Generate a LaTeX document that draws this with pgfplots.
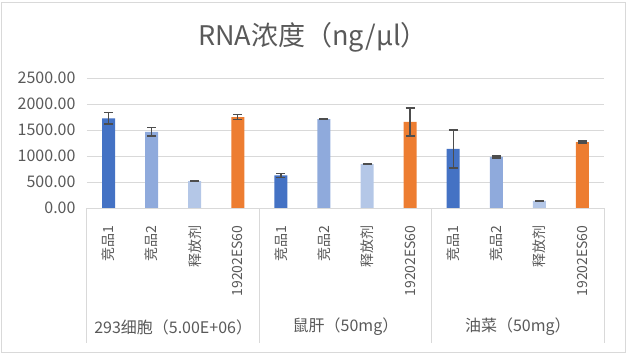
\documentclass[border=0pt]{standalone}
\usepackage{pgfplots}
\pgfplotsset{compat=1.18}
\usepackage{fontspec}
\setmainfont{Noto Sans CJK SC}
\definecolor{c1}{HTML}{4472C4}
\definecolor{c2}{HTML}{8FAADC}
\definecolor{c3}{HTML}{B4C7E7}
\definecolor{c4}{HTML}{ED7D31}
\definecolor{txt}{HTML}{595959}
\definecolor{gridc}{HTML}{D9D9D9}
\definecolor{errc}{HTML}{4D4D4D}
\pgfplotsset{
  mybar/.style={ybar, bar width=13pt, bar shift=0pt, draw=none, fill=#1,
    error bars/.cd, y dir=both, y explicit,
    error bar style={line width=1.3pt, color=errc},
    error mark options={rotate=90, mark size=4.5pt, line width=1.3pt, color=errc}}
}
\begin{document}
\begin{tikzpicture}
\path[use as bounding box] (-87pt,-146pt) rectangle (540pt,208pt);
\draw[gridc, line width=1pt] (-85pt,-144pt) rectangle (538pt,206pt);
\begin{axis}[
  at={(0,0)}, anchor=south west,
  scale only axis, width=517pt, height=130pt,
  xmin=-0.5, xmax=11.5, ymin=0, ymax=2500,
  ytick={0,500,1000,1500,2000,2500},
  xtick={0,1,2,3,4,5,6,7,8,9,10,11},
  xticklabels={竞品1,竞品2,释放剂,19202ES60,竞品1,竞品2,释放剂,19202ES60,竞品1,竞品2,释放剂,19202ES60},
  xticklabel style={rotate=90, anchor=east, font=\fontsize{14}{14}\selectfont, text=txt},
  xticklabel shift=14pt,
  yticklabel style={anchor=east, font=\fontsize{16}{16}\selectfont, text=txt, xshift=-8pt},
  yticklabel={\pgfmathprintnumber[fixed,fixed zerofill,precision=2,1000 sep={},assume math mode=true]{\tick}},
  axis line style={draw=none},
  major tick length=0pt,
  ymajorgrids, grid style={gridc, line width=1pt},
  clip=false,
]
\addplot[mybar=c1] coordinates {(0,1725) +- (0,112) (4,628) +- (0,35) (8,1135) +- (0,365)};
\addplot[mybar=c2] coordinates {(1,1462) +- (0,80) (5,1711) +- (0,10) (9,981) +- (0,20)};
\addplot[mybar=c3] coordinates {(2,519) +- (0,10) (6,846) +- (0,10) (10,135) +- (0,15)};
\addplot[mybar=c4] coordinates {(3,1750) +- (0,48) (7,1654) +- (0,270) (11,1269) +- (0,20)};
\draw[gridc, line width=1pt] (axis cs:-0.5,0) -- ++(0pt,-135pt);
\draw[gridc, line width=1pt] (axis cs:3.5,0) -- ++(0pt,-135pt);
\draw[gridc, line width=1pt] (axis cs:7.5,0) -- ++(0pt,-135pt);
\draw[gridc, line width=1pt] (axis cs:11.5,0) -- ++(0pt,-135pt);
\draw[gridc, line width=1pt] (axis cs:-0.5,0) -- (axis cs:11.5,0);
\node[text=txt, font=\fontsize{16}{16}\selectfont] at ([yshift=-119pt]axis cs:1.5,0) {293细胞（5.00E+06）};
\node[text=txt, font=\fontsize{16}{16}\selectfont] at ([yshift=-119pt]axis cs:5.5,0) {鼠肝（50mg）};
\node[text=txt, font=\fontsize{16}{16}\selectfont] at ([yshift=-119pt]axis cs:9.5,0) {油菜（50mg）};
\end{axis}
\node[text=txt, font=\fontsize{27}{27}\selectfont] at (226pt,171pt) {RNA浓度（ng/μl）};
\end{tikzpicture}
\end{document}
